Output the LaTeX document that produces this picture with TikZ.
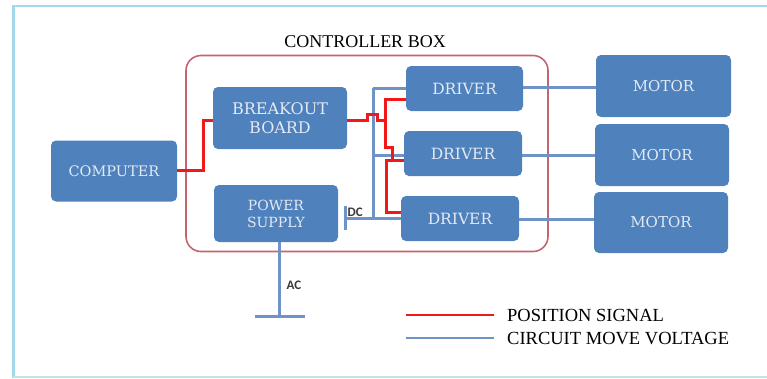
\documentclass[tikz,border=0pt]{standalone}
\usepackage{fontspec}
\setmainfont{Liberation Serif}
\newfontfamily\boxfont{DejaVu Serif}
\newfontfamily\lblfont{Carlito}
\definecolor{boxblue}{HTML}{4F81BD}
\definecolor{lineblue}{HTML}{6F93C6}
\definecolor{sigred}{HTML}{F01818}
\definecolor{ctrlred}{HTML}{C4646E}
\definecolor{frameblue}{HTML}{A3D8EA}
\definecolor{boxtext}{HTML}{E4EAF3}
\definecolor{lbltext}{HTML}{383838}
\tikzset{
  blk/.style={fill=boxblue, draw=none, rounded corners=5pt, inner sep=0pt,
    text=boxtext, align=center, font=\boxfont},
  bl/.style={draw=lineblue, line width=3pt},
  rd/.style={draw=sigred, line width=3pt},
  lbl/.style={font=\lblfont\bfseries\fontsize{13}{14}\selectfont, text=lbltext, inner sep=0pt},
  ttl/.style={font=\fontsize{18}{20}\selectfont, inner sep=0pt},
}
\begin{document}
\begin{tikzpicture}[x=1pt,y=-1pt]
\useasboundingbox (0,0) rectangle (767,378);
% frame
\draw[frameblue, line width=3pt] (13,378) -- (13,6);
\draw[frameblue, line width=2.5pt] (11.5,6) -- (767,6);
\draw[frameblue!70, line width=1.5pt] (13,377) -- (767,377);
% controller box
\node[draw=ctrlred, line width=1.6pt, rounded corners=15pt, minimum width=362pt, minimum height=196pt, inner sep=0pt] (ctrl) at (367,153.5) {};
\node[ttl] (title) at (365,42) {CONTROLLER BOX};
% blocks
\node[blk, minimum width=126pt, minimum height=61pt, font=\boxfont\fontsize{14.5}{16}\selectfont] (comp) at (114,171) {COMPUTER};
\node[blk, minimum width=134pt, minimum height=62pt, font=\boxfont\fontsize{16}{18.5}\selectfont] (bo) at (280,118) {BREAKOUT\\BOARD};
\node[blk, minimum width=124pt, minimum height=57pt, font=\boxfont\fontsize{14}{17}\selectfont] (ps) at (276,213.5) {POWER\\SUPPLY};
\node[blk, minimum width=117pt, minimum height=45pt, font=\boxfont\fontsize{15.5}{17}\selectfont] (d1) at (464.5,88.5) {DRIVER};
\node[blk, minimum width=118pt, minimum height=45pt, font=\boxfont\fontsize{15.5}{17}\selectfont] (d2) at (463,153.5) {DRIVER};
\node[blk, minimum width=118pt, minimum height=45pt, font=\boxfont\fontsize{15.5}{17}\selectfont] (d3) at (460,218.5) {DRIVER};
\node[blk, minimum width=135pt, minimum height=62pt, font=\boxfont\fontsize{15}{17}\selectfont] (m1) at (663.5,86) {MOTOR};
\node[blk, minimum width=134pt, minimum height=62pt, font=\boxfont\fontsize{15}{17}\selectfont] (m2) at (662,155) {MOTOR};
\node[blk, minimum width=134pt, minimum height=61pt, font=\boxfont\fontsize{15}{17}\selectfont] (m3) at (661,222.5) {MOTOR};
% driver to motor
\draw[bl] (d1.east |- 0,87) -- (m1.west |- 0,87);
\draw[bl] (d2.east |- 0,155) -- (m2.west |- 0,155);
\draw[bl] (d3.east |- 0,219) -- (m3.west |- 0,219);
% power bus
\coordinate (bustop) at (373,88);
\coordinate (busbot) at (373,218);
\coordinate (dct) at (345,206);
\coordinate (dcb) at (345,230);
\draw[bl] (bustop) -- (d1.west |- bustop);
\draw[bl] (bustop) -- (busbot);
\draw[bl] (373,155) -- (d2.west |- 0,155);
\draw[bl] (dct |- busbot) -- (d3.west |- busbot);
\draw[bl] (dct) -- (dcb);
\node[lbl, anchor=west] (dc) at (347.5,212) {DC};
% AC
\coordinate (ac) at (279,316);
\draw[bl] (ac |- ps.south) -- (ac);
\coordinate (acl) at (255,316);
\coordinate (acr) at (305,316);
\draw[bl] (acl) -- (acr);
\node[lbl, anchor=west] (aclbl) at (286.5,285) {AC};
% position signal
\draw[rd] (comp.east |- 0,170) -- (203,170) -- (203,120) -- (bo.west |- 0,120);
\draw[rd] (bo.east |- 0,120) -- (367,120) -- (367,114) -- (377,114) -- (377,120) -- (385,120);
\draw[rd] (d1.west |- 0,99) -- (385,99) -- (385,147) -- (392,147) -- (392,160) -- (d2.west |- 0,160);
\draw[rd] (392,160) -- (386,160) -- (386,212) -- (d3.west |- 0,212);
% legend
\coordinate (lr1) at (406,315);
\coordinate (lr2) at (494,315);
\coordinate (lb1) at (406,338);
\coordinate (lb2) at (494,338);
\draw[draw=sigred, line width=2.6pt] (lr1) -- (lr2);
\draw[draw=lineblue, line width=2.6pt] (lb1) -- (lb2);
\node[ttl, anchor=west, font=\fontsize{18.5}{20}\selectfont] (leg1) at (507,315) {POSITION SIGNAL};
\node[ttl, anchor=west, font=\fontsize{18.5}{20}\selectfont] (leg2) at (507,339) {CIRCUIT MOVE VOLTAGE};
\end{tikzpicture}
\end{document}
